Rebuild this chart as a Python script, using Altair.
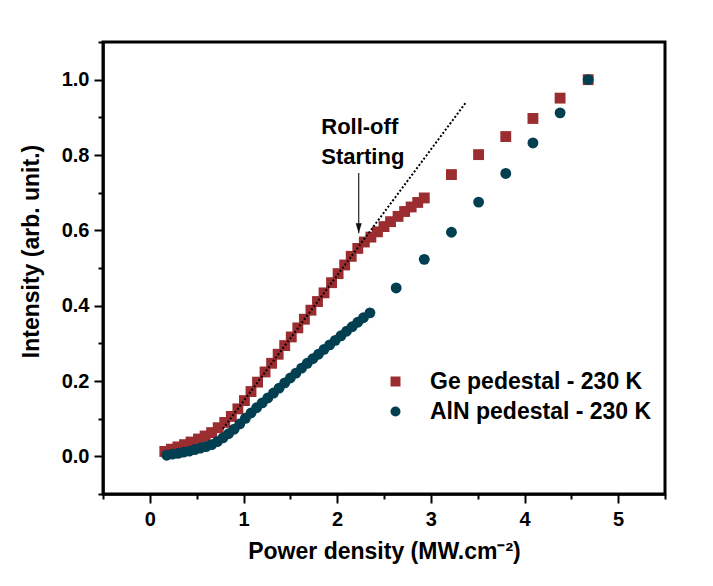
import altair as alt
import pandas as pd

# ---------------- data ----------------
series_names = ["Ge pedestal - 230 K", "AlN pedestal - 230 K"]
series_colors = ["#9B2C30", "#023F51"]
series_shapes = ["square", "circle"]

ge_x = [0.16, 0.23, 0.30, 0.37, 0.44, 0.52, 0.59, 0.66, 0.73, 0.80,
        0.87, 0.94, 1.01, 1.08, 1.15, 1.23, 1.30, 1.37, 1.44, 1.51,
        1.58, 1.65, 1.72, 1.79, 1.86, 1.94, 2.01, 2.08, 2.15, 2.22,
        2.29, 2.36, 2.43, 2.50, 2.57, 2.65, 2.72, 2.79, 2.86, 2.93,
        3.22, 3.51, 3.80, 4.09, 4.38, 4.68]
ge_y = [0.013, 0.019, 0.025, 0.031, 0.038, 0.046, 0.054, 0.063, 0.076, 0.090,
        0.106, 0.126, 0.148, 0.172, 0.197, 0.224, 0.247, 0.271, 0.294, 0.317,
        0.341, 0.364, 0.388, 0.411, 0.434, 0.461, 0.485, 0.508, 0.531, 0.552,
        0.569, 0.582, 0.596, 0.610, 0.623, 0.637, 0.650, 0.662, 0.674, 0.686,
        0.748, 0.801, 0.849, 0.897, 0.951, 1.000]

aln_x = [0.18, 0.24, 0.30, 0.36, 0.42, 0.48, 0.54, 0.60, 0.66, 0.72,
         0.78, 0.84, 0.90, 0.96, 1.02, 1.08, 1.14, 1.20, 1.26, 1.32,
         1.38, 1.44, 1.50, 1.56, 1.62, 1.68, 1.74, 1.80, 1.86, 1.92,
         1.98, 2.04, 2.10, 2.16, 2.22, 2.28, 2.35,
         2.63, 2.93, 3.22, 3.51, 3.80, 4.09, 4.38, 4.68]
aln_y = [0.003, 0.006, 0.008, 0.011, 0.014, 0.018, 0.022, 0.026, 0.031, 0.039,
         0.049, 0.060, 0.072, 0.086, 0.101, 0.115, 0.129, 0.142, 0.155, 0.168,
         0.181, 0.195, 0.208, 0.221, 0.234, 0.247, 0.259, 0.271, 0.284, 0.296,
         0.308, 0.320, 0.332, 0.344, 0.356, 0.368, 0.381,
         0.447, 0.523, 0.595, 0.675, 0.751, 0.832, 0.912, 1.000]

fit_x = [0.78, 3.37]
fit_y = [0.073, 0.938]

arrow_x = [2.23]
arrow_top = [0.752]
arrow_tip = [0.592]

note_x = [1.83, 1.83]
note_y = [0.857, 0.777]
note_text = ["Roll-off", "Starting"]

x_ticks = [-0.5, 0, 0.5, 1, 1.5, 2, 2.5, 3, 3.5, 4, 4.5, 5, 5.5]
y_ticks = [-0.1, 0, 0.1, 0.2, 0.3, 0.4, 0.5, 0.6, 0.7, 0.8, 0.9, 1.0, 1.1]

FONT = "Liberation Sans, Arial, Helvetica, sans-serif"

# ---------------- tables ----------------
pts = pd.DataFrame({
    "x": ge_x + aln_x,
    "y": ge_y + aln_y,
    "series": [series_names[0]] * len(ge_x) + [series_names[1]] * len(aln_x),
})
fit = pd.DataFrame({"x": fit_x, "y": fit_y})
arrow = pd.DataFrame({"x": arrow_x, "y": arrow_top, "y2": arrow_tip})
tip = pd.DataFrame({"x": arrow_x, "y": arrow_tip})
notes = pd.DataFrame({"x": note_x, "y": note_y, "t": note_text})
frame_df = pd.DataFrame({"x": [-0.5], "x2": [5.5], "y": [-0.1], "y2": [1.1]})

x_major = "abs(datum.value - round(datum.value)) < 0.001"
y_major = "abs(datum.value*5 - round(datum.value*5)) < 0.001"


def x_enc():
    return alt.X(
        "x:Q",
        scale=alt.Scale(domain=[-0.5, 5.5], nice=False, zero=False),
        axis=alt.Axis(
            title="Power density (MW.cm\u207B\u00B2)",
            values=x_ticks,
            labelExpr=x_major + " ? format(datum.value, 'd') : ''",
            tickSize={"condition": {"test": x_major, "value": 9}, "value": 5},
            tickWidth=2, tickColor="#000000", tickOpacity=1,
            domain=True, domainColor="#000000", domainWidth=2.5, domainOpacity=1,
            grid=False,
            labelFont=FONT, labelFontSize=20, labelFontWeight="bold",
            labelColor="black", labelPadding=6, labelOverlap=False,
            labelFlush=False,
            titleFont=FONT, titleFontSize=23, titleFontWeight="bold",
            titleColor="black", titlePadding=11,
        ),
    )


def y_enc():
    return alt.Y(
        "y:Q",
        scale=alt.Scale(domain=[-0.1, 1.1], nice=False, zero=False),
        axis=alt.Axis(
            title="Intensity (arb. unit.)",
            values=y_ticks,
            labelExpr=y_major + " ? format(datum.value, '.1f') : ''",
            tickSize={"condition": {"test": y_major, "value": 9}, "value": 5},
            tickWidth=2, tickColor="#000000", tickOpacity=1,
            domain=True, domainColor="#000000", domainWidth=2.5, domainOpacity=1,
            grid=False,
            labelFont=FONT, labelFontSize=20, labelFontWeight="bold",
            labelColor="black", labelPadding=5, labelOverlap=False,
            labelFlush=False,
            titleFont=FONT, titleFontSize=23, titleFontWeight="bold",
            titleColor="black", titleAngle=270,
            titleX=-72, titleY=209, titleBaseline="middle", titleAlign="center",
        ),
    )


legend_cfg = dict(
    title=None, orient="none", legendX=281, legendY=328,
    labelFont=FONT, labelFontSize=23, labelFontWeight="bold",
    labelColor="black", labelOffset=23, rowPadding=6,
    symbolSize=100, padding=0, labelLimit=400,
)

points = alt.Chart(pts).mark_point(filled=True, opacity=1, size=118).encode(
    x=x_enc(),
    y=y_enc(),
    color=alt.Color(
        "series:N",
        scale=alt.Scale(domain=series_names, range=series_colors),
        legend=alt.Legend(**legend_cfg),
    ),
    shape=alt.Shape(
        "series:N",
        scale=alt.Scale(domain=series_names, range=series_shapes),
        legend=alt.Legend(**legend_cfg),
    ),
)

fit_line = alt.Chart(fit).mark_line(
    color="black", strokeWidth=2, strokeDash=[2, 2]
).encode(x=x_enc(), y=y_enc())

arrow_line = alt.Chart(arrow).mark_rule(color="#222222", strokeWidth=1.2).encode(
    x=x_enc(), y=y_enc(), y2=alt.Y2("y2:Q")
)

arrow_head = alt.Chart(tip).mark_point(
    shape="M -0.6 -2 L 0.6 -2 L 0 0 Z", filled=True, opacity=1,
    color="#111111", size=100,
).encode(x=x_enc(), y=y_enc())

note = alt.Chart(notes).mark_text(
    align="left", baseline="alphabetic", font=FONT, fontSize=22,
    fontWeight="bold", color="black",
).encode(x=x_enc(), y=y_enc(), text="t:N")

# Origin-style closed box round the plot area, drawn through the scales
frame = alt.Chart(frame_df).mark_rect(
    filled=False, stroke="black", strokeWidth=3, opacity=1, strokeOpacity=1
).encode(x=x_enc(), x2="x2:Q", y=y_enc(), y2="y2:Q")

chart = alt.layer(
    points, fit_line, arrow_line, arrow_head, note, frame
).properties(
    width=562, height=452,
    autosize=alt.AutoSizeParams(type="none"),
    padding={"left": 95, "top": 34, "right": 40, "bottom": 84},
    background="white",
)

chart.save("out.html", embed_options={"renderer": "svg", "actions": False})
